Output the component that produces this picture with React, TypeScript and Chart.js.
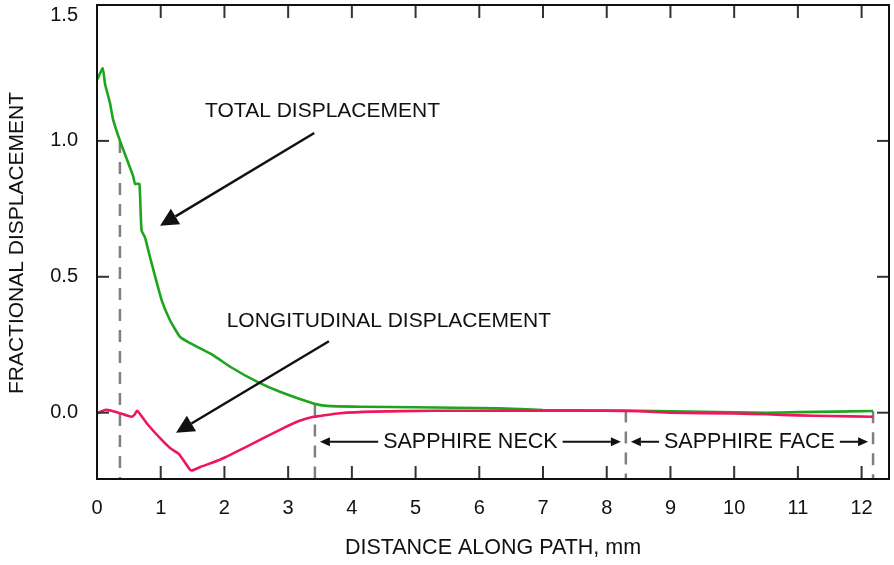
import React, { useEffect, useRef } from "react";
import { Chart, registerables } from "chart.js";

Chart.register(...registerables);

// Distance along path (mm) and fractional displacement for each curve
const distanceTotal = [
  0.005, 0.09, 0.126, 0.204, 0.251, 0.361, 0.565, 0.597, 0.664, 0.686, 0.7, 0.754, 0.832,
  1.016, 1.146, 1.303, 1.46, 1.82, 2.09, 2.51, 2.87, 3.4, 3.61, 4.13, 5.0, 5.6, 6.3, 7.0,
  8.0, 8.5, 9.5, 10.5, 11.0, 12.18,
];
const totalDisplacement = [
  1.226, 1.267, 1.209, 1.139, 1.08, 1.0, 0.872, 0.842, 0.842, 0.733, 0.67, 0.644, 0.572,
  0.413, 0.34, 0.279, 0.256, 0.212, 0.169, 0.114, 0.077, 0.034, 0.025, 0.022, 0.02, 0.018,
  0.016, 0.01, 0.008, 0.007, 0.003, 0.0, 0.002, 0.006,
];

const distanceLongitudinal = [
  0.005, 0.126, 0.23, 0.36, 0.54, 0.586, 0.633, 0.78, 0.99, 1.146, 1.28, 1.46, 1.49, 1.62,
  1.93, 2.35, 2.87, 3.19, 3.4, 3.5, 3.81, 4.34, 5.27, 6.0, 7.0, 8.0, 8.5, 9.0, 10.0, 10.5,
  11.0, 11.5, 12.18,
];
const longitudinalDisplacement = [
  -0.002, 0.01, 0.007, -0.002, -0.015, -0.008, 0.007, -0.039, -0.094, -0.13, -0.151, -0.21,
  -0.213, -0.2, -0.173, -0.125, -0.063, -0.029, -0.015, -0.012, -0.002, 0.004, 0.007, 0.007,
  0.007, 0.007, 0.005, 0.0, -0.003, -0.006, -0.01, -0.012, -0.015,
];

// Region boundaries (mm) and the height where each dashed marker starts
const boundaryDistance = [0.36, 3.42, 8.3, 12.18];
const boundaryTop = [1.0, 0.034, 0.008, 0.005];
const regionLabels = ["SAPPHIRE NECK", "SAPPHIRE FACE"];

const xTickValues = [0, 1, 2, 3, 4, 5, 6, 7, 8, 9, 10, 11, 12];
const yTickValues = [0, 0.5, 1.0, 1.5];

const X_MIN = 0;
const X_MAX = 12.43;
const Y_MIN = -0.244;
const Y_MAX = 1.5;

const FONT = '"Liberation Sans", Arial, Helvetica, sans-serif';
const GREEN = "#1ea41e";
const RED = "#ee175d";
const INK = "#111111";

function drawArrow(
  ctx: CanvasRenderingContext2D,
  x0: number,
  y0: number,
  x1: number,
  y1: number,
  headLen: number,
  headHalf: number,
  width: number
) {
  const ang = Math.atan2(y1 - y0, x1 - x0);
  const bx = x1 - Math.cos(ang) * headLen;
  const by = y1 - Math.sin(ang) * headLen;
  ctx.lineWidth = width;
  ctx.beginPath();
  ctx.moveTo(x0, y0);
  ctx.lineTo(bx, by);
  ctx.stroke();
  ctx.beginPath();
  ctx.moveTo(x1, y1);
  ctx.lineTo(bx + Math.sin(ang) * headHalf, by - Math.cos(ang) * headHalf);
  ctx.lineTo(bx - Math.sin(ang) * headHalf, by + Math.cos(ang) * headHalf);
  ctx.closePath();
  ctx.fill();
}

const decorPlugin = {
  id: "decor",
  afterDatasetsDraw(chart: any) {
    const { ctx, chartArea: a } = chart;
    const xs = chart.scales.x;
    const ys = chart.scales.y;
    const px = (v: number) => xs.getPixelForValue(v);
    const py = (v: number) => ys.getPixelForValue(v);
    ctx.save();

    // inward tick marks
    ctx.strokeStyle = "#333";
    ctx.lineWidth = 2;
    const seg = (x0: number, y0: number, x1: number, y1: number) => {
      ctx.beginPath();
      ctx.moveTo(x0, y0);
      ctx.lineTo(x1, y1);
      ctx.stroke();
    };
    xTickValues.forEach((v) => {
      if (v === X_MIN) return;
      const x = px(v);
      seg(x, a.bottom, x, a.bottom - 13);
      seg(x, a.top, x, a.top + 13);
    });
    yTickValues.forEach((v) => {
      if (v === Y_MAX) return;
      const y = py(v);
      seg(a.left, y, a.left + 12, y);
      seg(a.right, y, a.right - 12, y);
    });

    // frame
    ctx.strokeStyle = INK;
    ctx.lineWidth = 2;
    ctx.strokeRect(a.left, a.top, a.right - a.left, a.bottom - a.top);

    // y tick labels (the top one is kept inside the canvas)
    ctx.fillStyle = INK;
    ctx.font = `20px ${FONT}`;
    ctx.textAlign = "right";
    ctx.textBaseline = "middle";
    yTickValues.forEach((v) => {
      const y = Math.max(py(v), a.top + 10);
      ctx.fillText(v.toFixed(1), a.left - 19, y);
    });

    // curve labels with pointers
    ctx.strokeStyle = INK;
    ctx.font = `21px ${FONT}`;
    ctx.textAlign = "center";
    ctx.fillText("TOTAL DISPLACEMENT", px(3.54), py(1.108));
    ctx.fillText("LONGITUDINAL DISPLACEMENT", px(4.58), py(0.338));
    drawArrow(ctx, px(3.41), py(1.029), px(0.99), py(0.688), 18, 9, 2.5);
    drawArrow(ctx, px(3.64), py(0.263), px(1.24), py(-0.074), 18, 9, 2.5);

    // region spans between dashed boundaries
    const rowY = py(-0.107);
    ctx.font = `21.5px ${FONT}`;
    regionLabels.forEach((label, i) => {
      const left = px(boundaryDistance[i + 1]) + 5;
      const right = px(boundaryDistance[i + 2]) - 5;
      const mid = (px(boundaryDistance[i + 1]) + px(boundaryDistance[i + 2])) / 2;
      const w = ctx.measureText(label).width;
      ctx.fillText(label, mid, rowY);
      drawArrow(ctx, mid - w / 2 - 5, rowY, left, rowY, 10, 4.5, 2);
      drawArrow(ctx, mid + w / 2 + 5, rowY, right, rowY, 10, 4.5, 2);
    });
    ctx.restore();
  },
  afterDraw(chart: any) {
    const { ctx } = chart;
    ctx.save();
    ctx.fillStyle = INK;
    ctx.textAlign = "center";
    ctx.textBaseline = "middle";
    ctx.font = `21.5px ${FONT}`;
    ctx.fillText("DISTANCE ALONG PATH, mm", 493, 548);
    ctx.font = `21px ${FONT}`;
    ctx.translate(17, 243);
    ctx.rotate(-Math.PI / 2);
    ctx.fillText("FRACTIONAL DISPLACEMENT", 0, 0);
    ctx.restore();
  },
};

export default function App() {
  const canvasRef = useRef<HTMLCanvasElement | null>(null);

  useEffect(() => {
    if (!canvasRef.current) return;
    const boundaryDatasets = boundaryDistance.map((d, i) => ({
      label: `boundary-${i}`,
      data: [
        { x: d, y: boundaryTop[i] },
        { x: d, y: Y_MIN },
      ],
      borderColor: "#808080",
      borderWidth: 2.5,
      borderDash: [12, 9],
      pointRadius: 0,
      order: 2,
    }));

    const chart = new Chart(canvasRef.current, {
      type: "line",
      data: {
        datasets: [
          {
            label: "LONGITUDINAL DISPLACEMENT",
            data: distanceLongitudinal.map((d, i) => ({ x: d, y: longitudinalDisplacement[i] })),
            borderColor: RED,
            borderWidth: 2.6,
            pointRadius: 0,
            tension: 0.15,
            order: 0,
          },
          {
            label: "TOTAL DISPLACEMENT",
            data: distanceTotal.map((d, i) => ({ x: d, y: totalDisplacement[i] })),
            borderColor: GREEN,
            borderWidth: 2.6,
            pointRadius: 0,
            tension: 0.15,
            order: 1,
          },
          ...boundaryDatasets,
        ],
      },
      options: {
        animation: false,
        responsive: true,
        maintainAspectRatio: false,
        layout: { padding: { left: 0, top: 5, right: 5, bottom: 0 } },
        plugins: { legend: { display: false }, tooltip: { enabled: false } },
        scales: {
          x: {
            type: "linear",
            min: X_MIN,
            max: X_MAX,
            afterBuildTicks: (s: any) => {
              s.ticks = xTickValues.map((v) => ({ value: v }));
            },
            afterFit: (s: any) => {
              s.height = 86;
            },
            grid: { display: false, drawTicks: false },
            border: { display: false },
            ticks: {
              font: { family: FONT, size: 20 },
              color: INK,
              padding: 17,
              maxRotation: 0,
              autoSkip: false,
              callback: (v: any) => String(v),
            },
          },
          y: {
            type: "linear",
            min: Y_MIN,
            max: Y_MAX,
            afterBuildTicks: (s: any) => {
              s.ticks = yTickValues.map((v) => ({ value: v }));
            },
            afterFit: (s: any) => {
              s.width = 97;
            },
            grid: { display: false, drawTicks: false },
            border: { display: false },
            ticks: { display: false },
          },
        },
      },
      plugins: [decorPlugin],
    });
    return () => chart.destroy();
  }, []);

  return (
    <div style={{ position: "fixed", left: 0, top: 0, width: 894, height: 565, background: "#fff" }}>
      <canvas ref={canvasRef} />
    </div>
  );
}
